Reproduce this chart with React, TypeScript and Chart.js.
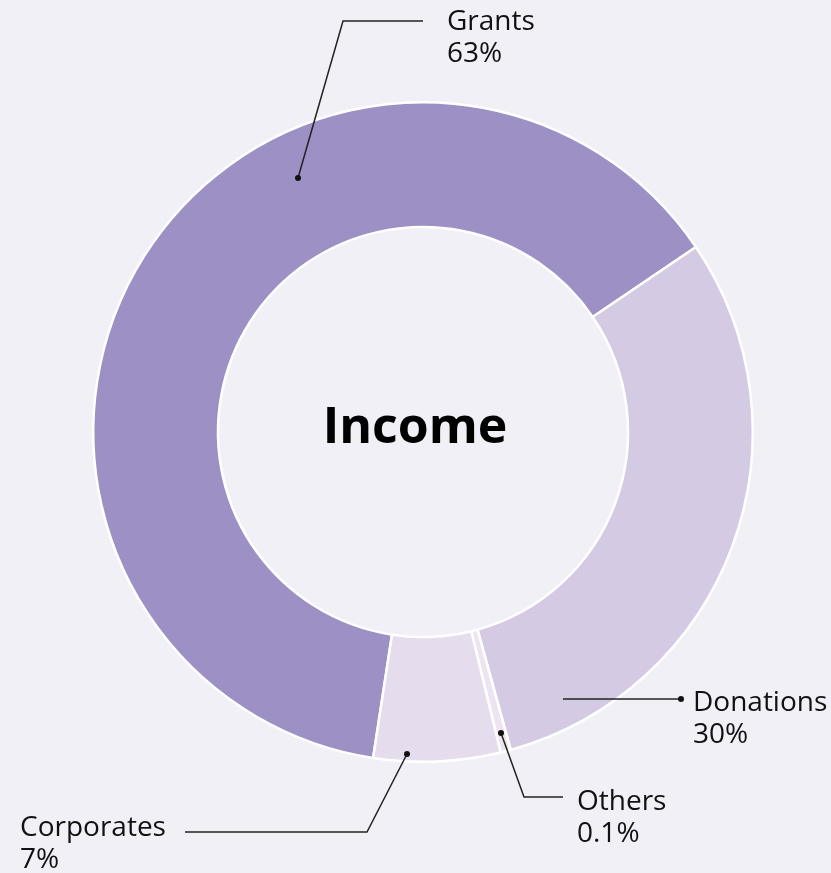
import React, { useEffect, useRef } from "react";
import { Chart, registerables } from "chart.js";

Chart.register(...registerables);

const categories = ["Grants", "Donations", "Others", "Corporates"];
const shares = [63.1, 30.2, 0.5, 6.2];
const shareLabels = ["63%", "30%", "0.1%", "7%"];
const sliceColors = ["#9d90c5", "#d4cae3", "#eee3f0", "#e5dded"];
const centerTitle = "Income";

const BG = "#f1f0f7";
const FONT = "'Open Sans', 'Noto Sans', sans-serif";

// leader layout: offsets relative to doughnut centre
type Leader = {
  pts: [number, number][];
  dotIndex: number;
  text: [number, number];
  align: CanvasTextAlign;
};
const leaders: Leader[] = [
  { pts: [[-125, -254], [-80, -411], [0, -411]], dotIndex: 0, text: [24, -402], align: "left" },
  { pts: [[140, 267], [258, 267]], dotIndex: 1, text: [270, 279], align: "left" },
  { pts: [[78, 301], [101, 365], [140, 365]], dotIndex: 0, text: [154, 378], align: "left" },
  { pts: [[-16, 322], [-56, 400], [-238, 400]], dotIndex: 0, text: [-403, 404], align: "left" },
];

const labelPlugin = {
  id: "leaderLabels",
  afterDraw(chart: any) {
    const arc = chart.getDatasetMeta(0).data[0];
    if (!arc) return;
    const cx = arc.x;
    const cy = arc.y;
    const ctx = chart.ctx as CanvasRenderingContext2D;
    ctx.save();
    // centre title
    ctx.fillStyle = "#000";
    ctx.font = `700 50px ${FONT}`;
    ctx.textAlign = "center";
    ctx.textBaseline = "alphabetic";
    ctx.fillText(centerTitle, cx - 8, cy + 11);

    leaders.forEach((l, i) => {
      ctx.strokeStyle = "#222";
      ctx.lineWidth = 1.5;
      ctx.beginPath();
      l.pts.forEach(([x, y], k) => {
        if (k === 0) ctx.moveTo(cx + x, cy + y);
        else ctx.lineTo(cx + x, cy + y);
      });
      ctx.stroke();
      const d = l.pts[l.dotIndex === 0 ? 0 : l.pts.length - 1];
      ctx.fillStyle = "#111";
      ctx.beginPath();
      ctx.arc(cx + d[0], cy + d[1], 3, 0, Math.PI * 2);
      ctx.fill();
      ctx.font = `400 28px ${FONT}`;
      ctx.textAlign = l.align;
      ctx.fillStyle = "#111";
      ctx.fillText(categories[i], cx + l.text[0], cy + l.text[1]);
      ctx.fillText(shareLabels[i], cx + l.text[0], cy + l.text[1] + 32);
    });
    ctx.restore();
  },
};

export default function App() {
  const ref = useRef<HTMLCanvasElement>(null);
  useEffect(() => {
    if (!ref.current) return;
    const chart = new Chart(ref.current, {
      type: "doughnut",
      data: {
        labels: categories,
        datasets: [
          {
            data: shares,
            backgroundColor: sliceColors,
            borderColor: "#ffffff",
            borderWidth: 2.5,
          },
        ],
      },
      options: {
        animation: false,
        responsive: false,
        rotation: 188.7,
        cutout: 205,
        layout: { padding: { left: 92, right: 77, top: 101, bottom: 110 } },
        plugins: {
          legend: { display: false },
          tooltip: { enabled: false },
        },
      },
      plugins: [labelPlugin],
    });
    return () => chart.destroy();
  }, []);
  return (
    <div
      style={{
        position: "fixed",
        left: 0,
        top: 0,
        width: 831,
        height: 873,
        background: BG,
      }}
    >
      <canvas ref={ref} width={831} height={873} style={{ display: "block" }} />
    </div>
  );
}
